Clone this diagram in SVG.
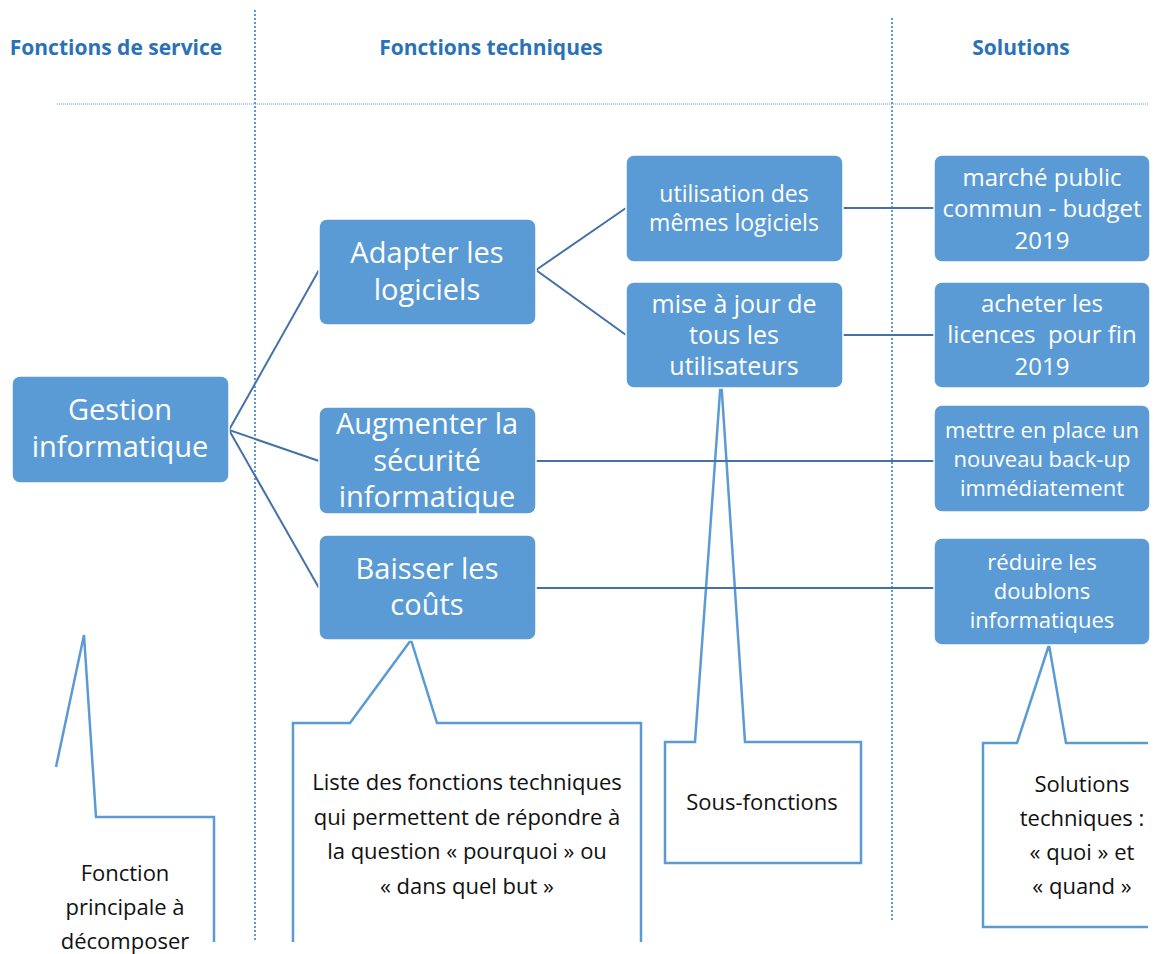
<svg xmlns="http://www.w3.org/2000/svg" width="1154" height="954" viewBox="0 0 1154 954">
  <style>
    .hdr { font-family: "Open Sans", "Liberation Sans", sans-serif; font-weight: bold; font-size: 21px; fill: #2A72B8; text-anchor: middle; }
    .guide { stroke: #5B9BD5; stroke-width: 2; stroke-dasharray: 2 2; fill: none; }
    .guide-h { stroke: #5B9BD5; stroke-width: 1; stroke-dasharray: 1 1; fill: none; }
    .box { fill: #5B9BD5; stroke: #FFFFFF; stroke-width: 1.5; }
    .lbl { font-family: "Open Sans", "Liberation Sans", sans-serif; fill: #FFFFFF; text-anchor: middle; white-space: pre; }
    .big { font-size: 29px; }
    .mid { font-size: 25px; }
    .sm { font-size: 22px; }
    .link { stroke: #4472A8; stroke-width: 2; fill: none; }
    .note { stroke: #5B9BD5; stroke-width: 2.5; fill: #FFFFFF; stroke-linejoin: miter; }
    .note-open { stroke: #5B9BD5; stroke-width: 2.5; fill: none; }
    .ntxt { font-family: "Open Sans", "Liberation Sans", sans-serif; font-size: 22px; fill: #111111; text-anchor: middle; }
  </style>

  <!-- column headers -->
  <g id="headers">
    <text class="hdr" x="116" y="55">Fonctions de service</text>
    <text class="hdr" x="491" y="55">Fonctions techniques</text>
    <text class="hdr" x="1021" y="55">Solutions</text>
  </g>

  <!-- dotted column guides -->
  <g id="guides">
    <line class="guide" x1="255" y1="10" x2="255" y2="940"/>
    <line class="guide" x1="892" y1="18" x2="892" y2="920"/>
    <line class="guide-h" x1="57" y1="104" x2="1148" y2="104"/>
  </g>

  <!-- callouts -->
  <g id="callout-principale">
    <path class="note-open" d="M56,767 L84,635 L96,817 L214,817 L214,942"/>
    <text class="ntxt" x="125" y="881">Fonction</text>
    <text class="ntxt" x="125" y="915">principale à</text>
    <text class="ntxt" x="125" y="949">décomposer</text>
  </g>
  <g id="callout-liste">
    <path class="note" d="M293,942 L293,723 L350,723 L411,640 L437,723 L641,723 L641,942"/>
    <text class="ntxt" x="467" y="790">Liste des fonctions techniques</text>
    <text class="ntxt" x="467" y="825">qui permettent de répondre à</text>
    <text class="ntxt" x="467" y="859">la question « pourquoi » ou</text>
    <text class="ntxt" x="467" y="894">« dans quel but »</text>
  </g>
  <g id="callout-sous-fonctions">
    <path class="note" d="M665,742 L695,742 L721,378 L745,742 L861,742 L861,863 L665,863 Z"/>
    <text class="ntxt" x="762" y="810">Sous-fonctions</text>
  </g>
  <g id="callout-solutions">
    <path class="note" d="M1148,743 L1066,743 L1049,645 L1017,743 L983,743 L983,927 L1148,927"/>
    <text class="ntxt" x="1082" y="792">Solutions</text>
    <text class="ntxt" x="1082" y="826">techniques :</text>
    <text class="ntxt" x="1082" y="860">« quoi » et</text>
    <text class="ntxt" x="1082" y="894">« quand »</text>
  </g>

  <!-- tree connectors -->
  <g id="connectors">
    <polyline class="link" points="319,270 229,430 319,461"/>
    <line class="link" x1="229" y1="430" x2="319" y2="588"/>
    <polyline class="link" points="626,208 536,270 626,335"/>
    <line class="link" x1="843" y1="208" x2="934" y2="208"/>
    <line class="link" x1="843" y1="335" x2="934" y2="335"/>
    <line class="link" x1="536" y1="461" x2="934" y2="461"/>
    <line class="link" x1="536" y1="588" x2="934" y2="588"/>
  </g>

  <!-- service function -->
  <g id="gestion">
    <rect class="box" x="12" y="376" width="217" height="107" rx="8"/>
    <text class="lbl big" x="120" y="420">Gestion</text>
    <text class="lbl big" x="120" y="457">informatique</text>
  </g>

  <!-- technical functions -->
  <g id="adapter">
    <rect class="box" x="319" y="219" width="217" height="106" rx="8"/>
    <text class="lbl big" x="427" y="263">Adapter les</text>
    <text class="lbl big" x="427" y="300">logiciels</text>
  </g>
  <g id="augmenter">
    <rect class="box" x="319" y="407" width="217" height="107" rx="8"/>
    <text class="lbl big" x="427" y="434">Augmenter la</text>
    <text class="lbl big" x="427" y="471">sécurité</text>
    <text class="lbl big" x="427" y="507">informatique</text>
  </g>
  <g id="baisser">
    <rect class="box" x="319" y="535" width="217" height="105" rx="8"/>
    <text class="lbl big" x="427" y="579">Baisser les</text>
    <text class="lbl big" x="427" y="615">coûts</text>
  </g>

  <!-- sub-functions -->
  <g id="utilisation">
    <rect class="box" x="626" y="155" width="217" height="107" rx="8"/>
    <text class="lbl" font-size="23" x="734" y="202">utilisation des</text>
    <text class="lbl" font-size="23" x="734" y="231">mêmes logiciels</text>
  </g>
  <g id="mise-a-jour">
    <rect class="box" x="626" y="282" width="217" height="106" rx="8"/>
    <text class="lbl mid" x="734" y="313">mise à jour de</text>
    <text class="lbl mid" x="734" y="344">tous les</text>
    <text class="lbl mid" x="734" y="375">utilisateurs</text>
  </g>

  <!-- solutions -->
  <g id="marche">
    <rect class="box" x="934" y="155" width="216" height="107" rx="8"/>
    <text class="lbl" font-size="24" x="1042" y="186">marché public</text>
    <text class="lbl" font-size="24" x="1042" y="217">commun - budget</text>
    <text class="lbl" font-size="24" x="1042" y="249">2019</text>
  </g>
  <g id="acheter">
    <rect class="box" x="934" y="282" width="216" height="106" rx="8"/>
    <text class="lbl" font-size="24" x="1042" y="312">acheter les</text>
    <text class="lbl" font-size="24" x="1042" y="343">licences  pour fin</text>
    <text class="lbl" font-size="24" x="1042" y="375">2019</text>
  </g>
  <g id="backup">
    <rect class="box" x="934" y="405" width="216" height="107" rx="8"/>
    <text class="lbl sm" x="1042" y="438">mettre en place un</text>
    <text class="lbl sm" x="1042" y="467">nouveau back-up</text>
    <text class="lbl sm" x="1042" y="496">immédiatement</text>
  </g>
  <g id="doublons">
    <rect class="box" x="934" y="538" width="216" height="107" rx="8"/>
    <text class="lbl sm" x="1042" y="570">réduire les</text>
    <text class="lbl sm" x="1042" y="599">doublons</text>
    <text class="lbl sm" x="1042" y="628">informatiques</text>
  </g>
</svg>
